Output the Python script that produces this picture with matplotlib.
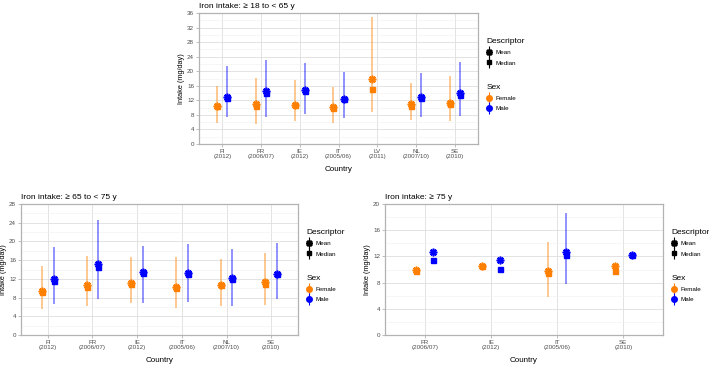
import numpy as np
import matplotlib
matplotlib.use('Agg')
import matplotlib.pyplot as plt
from matplotlib.lines import Line2D
from matplotlib.legend_handler import HandlerTuple
from matplotlib.ticker import MultipleLocator

plt.rcParams['font.family'] = ['Liberation Sans', 'DejaVu Sans']

nan = np.nan

# Iron intake, >= 18 to < 65 y
adult_labels = ['FI\n(2012)', 'FR\n(2006/07)', 'IE\n(2012)', 'IT\n(2005/06)', 'LV\n(2011)', 'NL\n(2007/10)', 'SE\n(2010)']
adult_f_mean = [10.5, 11.0, 10.8, 10.1, 17.9, 10.9, 11.4]
adult_f_median = [10.4, 10.5, 10.7, 10.0, 15.2, 10.5, 11.0]
adult_f_lo = [5.9, 5.5, 6.2, 5.7, 8.9, 6.6, 6.2]
adult_f_hi = [16.0, 18.1, 17.6, 15.8, 34.9, 16.7, 18.7]
adult_m_mean = [13.0, 14.6, 14.9, 12.5, nan, 13.0, 14.1]
adult_m_median = [12.6, 14.0, 14.6, 12.3, nan, 12.7, 13.5]
adult_m_lo = [7.5, 7.5, 8.3, 7.1, nan, 7.5, 7.7]
adult_m_hi = [21.3, 23.1, 22.2, 19.8, nan, 19.5, 22.4]

# Iron intake, >= 65 to < 75 y
old_labels = ['FI\n(2012)', 'FR\n(2006/07)', 'IE\n(2012)', 'IT\n(2005/06)', 'NL\n(2007/10)', 'SE\n(2010)']
old_f_mean = [9.4, 10.7, 11.2, 10.2, 10.7, 11.3]
old_f_median = [9.1, 10.3, 11.0, 10.0, 10.6, 10.9]
old_f_lo = [5.5, 6.3, 6.8, 5.8, 6.2, 6.4]
old_f_hi = [14.7, 16.9, 16.7, 16.7, 16.2, 17.6]
old_m_mean = [11.9, 15.1, 13.5, 13.3, 12.1, 13.1]
old_m_median = [11.5, 14.5, 13.3, 13.0, 11.9, 13.0]
old_m_lo = [6.6, 7.6, 6.9, 7.1, 6.3, 7.6]
old_m_hi = [18.9, 24.6, 19.1, 19.4, 18.4, 19.7]

# Iron intake, >= 75 y
elder_labels = ['FR\n(2006/07)', 'IE\n(2012)', 'IT\n(2005/06)', 'SE\n(2010)']
elder_f_mean = [9.9, 10.6, 9.7, 10.5]
elder_f_median = [9.7, 10.6, 9.5, 9.8]
elder_f_lo = [nan, nan, 5.8, nan]
elder_f_hi = [nan, nan, 14.2, nan]
elder_m_mean = [12.6, 11.5, 12.7, 12.2]
elder_m_median = [11.4, 10.1, 12.2, 12.2]
elder_m_lo = [nan, nan, 7.8, nan]
elder_m_hi = [nan, nan, 18.7, nan]

FEMALE = '#FF7F00'
MALE = '#0000FF'
MEAN_MARKER = (8, 2, 0)


def draw_panel(ax, title, labels, sexes, ymax):
    x = np.arange(1, len(labels) + 1)
    for (name, color, off, mean, med, lo, hi) in sexes:
        xs = x + off
        ax.vlines(xs, lo, hi, color=color, lw=1.2, alpha=0.5, zorder=2)
        ax.plot(xs, mean, ls='', marker=MEAN_MARKER, ms=5.5, mew=1.2, color=color, zorder=3)
        ax.plot(xs, med, ls='', marker='s', ms=3.6, color=color, zorder=4)

    ax.set_xlim(0.4, len(labels) + 0.6)
    ax.set_ylim(0, ymax)
    ax.set_xticks(x)
    ax.set_xticklabels(labels, fontsize=4.5, color='#4D4D4D', linespacing=1.0)
    ax.yaxis.set_major_locator(MultipleLocator(4))
    ax.yaxis.set_minor_locator(MultipleLocator(2))
    ax.tick_params(axis='y', labelsize=4.5, labelcolor='#4D4D4D', pad=1.5)
    ax.tick_params(axis='x', pad=1.5)
    ax.tick_params(which='both', color='#B3B3B3', length=2, width=0.6)
    ax.tick_params(which='minor', length=0)
    ax.grid(True, which='major', color='#DEDEDE', lw=0.6)
    ax.grid(True, which='minor', axis='y', color='#F0F0F0', lw=0.4)
    ax.set_axisbelow(True)
    for s in ax.spines.values():
        s.set_color('#B3B3B3')
        s.set_linewidth(0.9)
    ax.set_title(title, loc='left', fontsize=6, pad=3.5)
    ax.set_xlabel('Country', fontsize=5.8, labelpad=5)
    ax.set_ylabel('Intake (mg/day)', fontsize=5.3, labelpad=1.5)

    desc_handles = [
        (Line2D([], [], ls='', marker='|', ms=9, mew=0.8, color='black'),
         Line2D([], [], ls='', marker=MEAN_MARKER, ms=5, mew=1.2, color='black')),
        (Line2D([], [], ls='', marker='|', ms=9, mew=0.8, color='black'),
         Line2D([], [], ls='', marker='s', ms=3.5, color='black')),
    ]
    sex_handles = [
        (Line2D([], [], ls='', marker='|', ms=9, mew=0.8, color=FEMALE),
         Line2D([], [], ls='', marker='o', ms=4, color=FEMALE)),
        (Line2D([], [], ls='', marker='|', ms=9, mew=0.8, color=MALE),
         Line2D([], [], ls='', marker='o', ms=4, color=MALE)),
    ]
    kw = dict(loc='upper left', frameon=False, fontsize=4.5, title_fontsize=6,
              handler_map={tuple: HandlerTuple(ndivide=1)}, handlelength=1.0,
              handletextpad=0.5, labelspacing=0.8, alignment='left',
              borderaxespad=0, borderpad=0)
    leg1 = ax.legend(desc_handles, ['Mean', 'Median'], title='Descriptor',
                     bbox_to_anchor=(1.03, 0.81), **kw)
    ax.add_artist(leg1)
    ax.legend(sex_handles, ['Female', 'Male'], title='Sex',
              bbox_to_anchor=(1.03, 0.46), **kw)


fig = plt.figure(figsize=(7.09, 3.67), dpi=100)
ax1 = fig.add_axes([199 / 709, (367 - 144) / 367, 279 / 709, 131 / 367])
ax2 = fig.add_axes([21 / 709, (367 - 335) / 367, 277 / 709, 131 / 367])
ax3 = fig.add_axes([385 / 709, (367 - 335) / 367, 278 / 709, 131 / 367])

d = 0.13
draw_panel(ax1, 'Iron intake: ≥ 18 to < 65 y', adult_labels,
           [('Female', FEMALE, -d, adult_f_mean, adult_f_median, adult_f_lo, adult_f_hi),
            ('Male', MALE, d, adult_m_mean, adult_m_median, adult_m_lo, adult_m_hi)], 36)
draw_panel(ax2, 'Iron intake: ≥ 65 to < 75 y', old_labels,
           [('Female', FEMALE, -d, old_f_mean, old_f_median, old_f_lo, old_f_hi),
            ('Male', MALE, d, old_m_mean, old_m_median, old_m_lo, old_m_hi)], 28)
draw_panel(ax3, 'Iron intake: ≥ 75 y', elder_labels,
           [('Female', FEMALE, -d, elder_f_mean, elder_f_median, elder_f_lo, elder_f_hi),
            ('Male', MALE, d, elder_m_mean, elder_m_median, elder_m_lo, elder_m_hi)], 20)

fig.savefig('out.png', dpi=100)
